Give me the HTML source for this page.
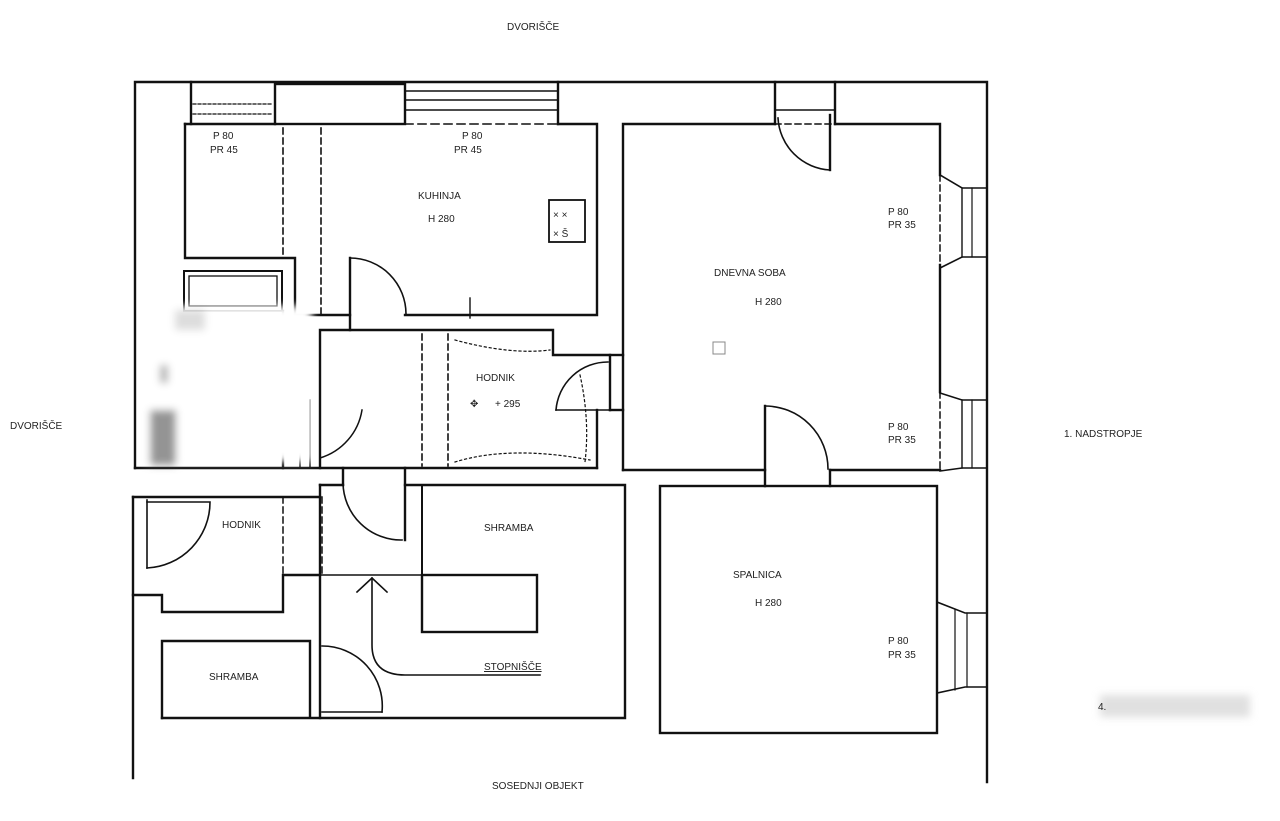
<!DOCTYPE html>
<html><head><meta charset="utf-8"><style>
html,body{margin:0;padding:0;background:#fff;}
svg{display:block;}
text{font-family:"Liberation Sans",sans-serif;fill:#222;font-size:10px;}
</style></head><body>
<svg width="1280" height="821" viewBox="0 0 1280 821" xmlns="http://www.w3.org/2000/svg">
<defs><filter id="b" x="-20%" y="-20%" width="140%" height="140%"><feGaussianBlur stdDeviation="4"/></filter></defs>
<g stroke="#111" stroke-width="2.4" fill="none" stroke-linecap="square">
<line x1="191" y1="82" x2="191" y2="124"/>
<line x1="193" y1="104" x2="273" y2="104" stroke-dasharray="3,2" stroke-width="1.2"/>
<line x1="193" y1="114" x2="273" y2="114" stroke-dasharray="3,2" stroke-width="1.2"/>
<rect x="275" y="84" width="130" height="40"/>
<line x1="405" y1="91" x2="558" y2="91" stroke-width="1.5"/>
<line x1="405" y1="100" x2="558" y2="100" stroke-width="1.5"/>
<line x1="405" y1="110" x2="558" y2="110" stroke-width="1.5"/>
<line x1="558" y1="82" x2="558" y2="124"/>
<line x1="775" y1="82" x2="775" y2="124"/>
<line x1="835" y1="82" x2="835" y2="124"/>
<line x1="775" y1="110" x2="835" y2="110" stroke-width="1.5"/>
<polyline points="185,124 275,124"/>
<polyline points="558,124 597,124 597,315 405,315"/>
<polyline points="185,124 185,258 295,258 295,315 350,315"/>
<line x1="405" y1="124" x2="558" y2="124" stroke-dasharray="8,5" stroke-width="1.6"/>
<line x1="283" y1="128" x2="283" y2="258" stroke-dasharray="6,4" stroke-width="1.6"/>
<line x1="321" y1="128" x2="321" y2="315" stroke-dasharray="6,4" stroke-width="1.6"/>
<line x1="350" y1="258" x2="350" y2="330"/>
<path d="M350,258 A56,56 0 0 1 406,314" stroke-width="1.6"/>
<rect x="549" y="200" width="36" height="42" stroke-width="1.8"/>
<line x1="470" y1="298" x2="470" y2="318" stroke-width="1.4"/>
<rect x="184" y="271" width="98" height="40" stroke-width="2"/>
<rect x="189" y="276" width="88" height="30" stroke-width="1.3"/>
<line x1="283" y1="311" x2="283" y2="468"/>
<line x1="300" y1="400" x2="300" y2="468" stroke-width="1.5"/>
<line x1="310" y1="400" x2="310" y2="468" stroke-width="1.5"/>
<path d="M362,410 A60,60 0 0 1 320,458" stroke-width="1.5"/>
<line x1="135" y1="468" x2="597" y2="468"/>
</g>
<g filter="url(#b)">
<rect x="142" y="306" width="170" height="156" fill="#fff"/>
<rect x="150" y="410" width="26" height="55" fill="#666" opacity="0.7"/>
<rect x="160" y="365" width="8" height="18" fill="#666" opacity="0.5"/>
<rect x="175" y="310" width="30" height="20" fill="#bbb" opacity="0.5"/>
<rect x="1100" y="695" width="150" height="22" fill="#ccc" opacity="0.6"/>
</g>
<g stroke="#111" stroke-width="2.4" fill="none" stroke-linecap="square">
<polyline points="135,468 135,82 987,82 987,782"/>
<line x1="133" y1="497" x2="133" y2="778"/>
<polyline points="320,468 320,330 553,330 553,355 610,355 610,410"/>
<polyline points="597,410 597,468"/>
<line x1="422" y1="334" x2="422" y2="466" stroke-dasharray="6,4" stroke-width="1.6"/>
<line x1="448" y1="334" x2="448" y2="466" stroke-dasharray="6,4" stroke-width="1.6"/>
<path d="M455,340 Q510,355 550,350" stroke-dasharray="2,3" stroke-width="1.2"/>
<path d="M455,462 Q510,445 590,460" stroke-dasharray="2,3" stroke-width="1.2"/>
<path d="M580,375 Q590,420 585,462" stroke-dasharray="2,3" stroke-width="1.2"/>
<line x1="556" y1="410" x2="610" y2="410" stroke-width="1.6"/>
<path d="M556,410 A52,52 0 0 1 608,362" stroke-width="1.6"/>
<line x1="610" y1="355" x2="623" y2="355"/>
<line x1="610" y1="410" x2="623" y2="410"/>
<polyline points="623,470 623,124 775,124"/>
<polyline points="835,124 940,124 940,175"/>
<line x1="775" y1="124" x2="835" y2="124" stroke-dasharray="6,4" stroke-width="1.5"/>
<line x1="830" y1="115" x2="830" y2="170"/>
<path d="M830,170 A55,55 0 0 1 778,118" stroke-width="1.6"/>
<line x1="940" y1="265" x2="940" y2="392"/>
<line x1="940" y1="175" x2="940" y2="265" stroke-dasharray="6,4" stroke-width="1.5"/>
<line x1="940" y1="392" x2="940" y2="470" stroke-dasharray="6,4" stroke-width="1.5"/>
<polyline points="940,175 962,188 987,188" stroke-width="1.6"/>
<polyline points="940,268 962,257 987,257" stroke-width="1.6"/>
<line x1="962" y1="188" x2="962" y2="257" stroke-width="1.4"/>
<line x1="972" y1="188" x2="972" y2="257" stroke-width="1.2"/>
<polyline points="940,393 962,400 987,400" stroke-width="1.6"/>
<polyline points="940,471 962,468 987,468" stroke-width="1.6"/>
<line x1="962" y1="400" x2="962" y2="468" stroke-width="1.4"/>
<line x1="972" y1="400" x2="972" y2="468" stroke-width="1.2"/>
<polyline points="623,470 765,470"/>
<polyline points="830,470 940,470"/>
<line x1="765" y1="406" x2="765" y2="486"/>
<line x1="830" y1="470" x2="830" y2="486"/>
<path d="M765,406 A63,63 0 0 1 828,469" stroke-width="1.6"/>
<rect x="713" y="342" width="12" height="12" stroke-width="1" stroke="#888"/>
<rect x="660" y="486" width="277" height="247"/>
<line x1="937" y1="602" x2="937" y2="692" stroke-dasharray="6,4" stroke-width="1.6"/>
<polyline points="937,602 965,613 987,613" stroke-width="1.6"/>
<polyline points="937,693 965,687 987,687" stroke-width="1.6"/>
<line x1="955" y1="610" x2="955" y2="690" stroke-width="1.2"/>
<line x1="967" y1="613" x2="967" y2="687" stroke-width="1.2"/>
<line x1="133" y1="497" x2="320" y2="497"/>
<polyline points="320,485 343,485"/>
<polyline points="405,485 625,485 625,718 162,718"/>
<line x1="343" y1="468" x2="343" y2="485"/>
<line x1="405" y1="468" x2="405" y2="540"/>
<path d="M343,483 A58,58 0 0 0 402,540" stroke-width="1.6"/>
<line x1="320" y1="485" x2="320" y2="718"/>
<line x1="283" y1="497" x2="283" y2="575" stroke-dasharray="6,4" stroke-width="1.5"/>
<line x1="322" y1="497" x2="322" y2="575" stroke-dasharray="6,4" stroke-width="1.5"/>
<polyline points="133,595 162,595 162,612 283,612 283,575 320,575"/>
<line x1="147" y1="500" x2="147" y2="568" stroke-width="1.6"/>
<path d="M147,502 L210,502 A66,66 0 0 1 147,568" stroke-width="1.6"/>
<line x1="320" y1="575" x2="422" y2="575" stroke-width="1.6"/>
<line x1="422" y1="487" x2="422" y2="575" stroke-dasharray="2,2" stroke-width="2"/>
<rect x="422" y="575" width="115" height="57"/>
<path d="M372,578 L372,645 Q372,675 405,675 L540,675" stroke-width="1.6"/>
<polyline points="357,592 372,578 387,592" stroke-width="1.6"/>
<polyline points="162,718 162,641 310,641 310,716"/>
<line x1="322" y1="712" x2="382" y2="712" stroke-width="1.6"/>
<path d="M322,646 A60,60 0 0 1 382,712" stroke-width="1.6"/>
</g>
<text x="507" y="30">DVORIŠČE</text>
<text x="10" y="429">DVORIŠČE</text>
<text x="1064" y="437">1. NADSTROPJE</text>
<text x="492" y="789">SOSEDNJI OBJEKT</text>
<text x="213" y="139">P 80</text><text x="210" y="153">PR 45</text>
<text x="462" y="139">P 80</text><text x="454" y="153">PR 45</text>
<text x="418" y="199">KUHINJA</text><text x="428" y="222">H 280</text>
<text x="553" y="218" font-size="14">× ×</text>
<text x="553" y="237" font-size="14">× Š</text>
<text x="714" y="276">DNEVNA SOBA</text><text x="755" y="305">H 280</text>
<text x="888" y="215">P  80</text><text x="888" y="228">PR 35</text>
<text x="888" y="430">P  80</text><text x="888" y="443">PR 35</text>
<text x="476" y="381">HODNIK</text><text x="495" y="407">+ 295</text>
<text x="470" y="407" font-size="16">✥</text>
<text x="222" y="528">HODNIK</text>
<text x="484" y="531">SHRAMBA</text>
<text x="209" y="680">SHRAMBA</text>
<text x="484" y="670" text-decoration="underline">STOPNIŠČE</text>
<text x="733" y="578">SPALNICA</text><text x="755" y="606">H 280</text>
<text x="888" y="644">P  80</text><text x="888" y="658">PR 35</text>
<text x="1098" y="710" fill="#777">4.</text>
</svg>
</body></html>
